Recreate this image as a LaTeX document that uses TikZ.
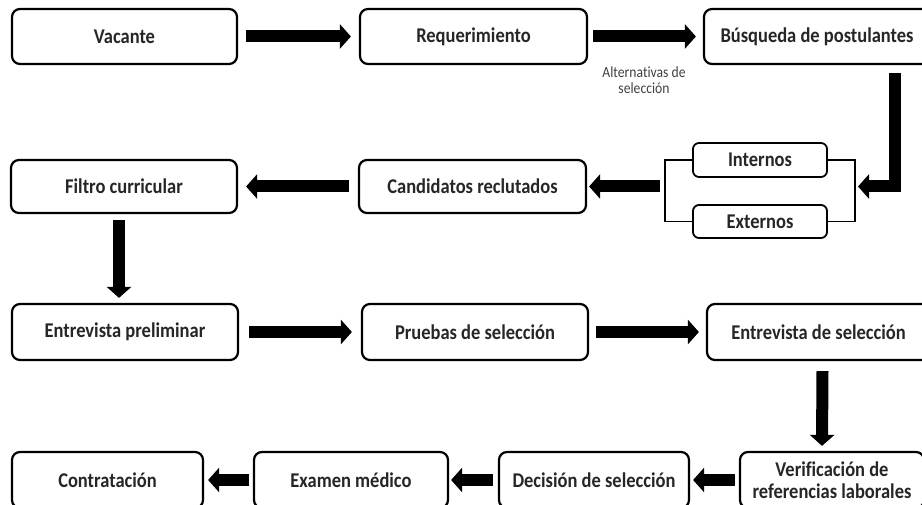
\documentclass[tikz,border=0pt]{standalone}
\usepackage{fontspec}
\setmainfont{Carlito}[FakeStretch=0.88, Ligatures=NoCommon]
\usetikzlibrary{arrows.meta,calc}
\definecolor{textgray}{HTML}{262626}
\definecolor{labelgray}{HTML}{404040}
\tikzset{
	etapa/.style={draw, line width=2.2pt, rounded corners=8pt, align=center, text=textgray,
		font=\fontsize{21}{22}\selectfont\bfseries, inner sep=0pt},
	subetapa/.style={etapa, rounded corners=6pt, line width=1.8pt},
	flecha/.style={line width=12pt, -{Triangle[width=24pt,length=11pt]}, shorten <=8pt, shorten >=8pt},
	linea/.style={line width=1.8pt}
}

\begin{document}
\begin{tikzpicture}[x=1pt,y=-1pt]
		\useasboundingbox (0,0) rectangle (922,505);
		\begin{scope}                           % recorte al marco
			\clip (0,0) rectangle (922,505);
			% fila 1
			\node[etapa, minimum width=225pt, minimum height=55pt] (vac) at (124.5,36.5) {Vacante};
			\node[etapa, minimum width=227pt, minimum height=55pt] (req) at (473.5,36.5) {Requerimiento};
			\node[etapa, minimum width=226pt, minimum height=55pt] (bus) at (817,36.5) {Búsqueda de postulantes};
			\node[font=\fontsize{15.5}{16}\selectfont, text=labelgray, align=center] (alt) at (644,80.5) {Alternativas de\\selección};
			\draw[flecha] (vac) -- (req);
			\draw[flecha, shorten <=5pt, shorten >=7pt] (req) -- (bus);
			% fila 2
			\node[etapa, minimum width=226pt, minimum height=53pt] (filt) at (124,186.5) {Filtro curricular};
			\node[etapa, minimum width=227pt, minimum height=53pt] (cand) at (472.5,186.5) {Candidatos reclutados};
			\node[subetapa, minimum width=134pt, minimum height=34pt] (intr) at (760,160) {Internos};
			\node[subetapa, minimum width=134pt, minimum height=33pt] (extr) at (760,221.5) {Externos};
			\draw[linea] (intr.west) -- ++(-27,0) |- (extr.west);
			\draw[linea] (intr.east) -- ++(27,0) |- (extr.east);
			\coordinate (brL) at (666,186.5);
			\coordinate (brR) at (854,186.5);
			\coordinate (codo) at ($(bus.south)+(78,8)$);
			\draw[flecha, shorten <=0pt, shorten >=4pt] (codo) |- (brR);
			\draw[flecha, shorten <=6pt, shorten >=2pt] (brL) -- (cand);
			\draw[flecha, shorten <=9pt] (cand) -- (filt);
			% fila 3
			\node[etapa, minimum width=226pt, minimum height=56pt] (entp) at (125,332) {Entrevista preliminar};
			\node[etapa, minimum width=226pt, minimum height=56pt] (prue) at (475,332) {Pruebas de selección};
			\node[etapa, minimum width=223pt, minimum height=56pt] (ents) at (818.5,332) {Entrevista de selección};
			\draw[flecha, shorten <=0pt, shorten >=0pt] ($(filt.south)+(-5,6)$) -- ($(entp.north)+(-6,-5)$);
			\draw[flecha, shorten <=10pt, shorten >=9pt] (entp) -- (prue);
			\draw[flecha, shorten <=7pt, shorten >=7pt] (prue) -- (ents);
			% fila 4
			\node[etapa, minimum width=191pt, minimum height=56pt] (cont) at (107.5,480) {Contratación};
			\node[etapa, minimum width=194pt, minimum height=56pt] (exam) at (351,480) {Examen médico};
			\node[etapa, minimum width=190pt, minimum height=56pt] (deci) at (594,480) {Decisión de selección};
			\node[etapa, minimum width=184pt, minimum height=56pt] (veri) at (832,480) {Verificación de\\referencias laborales};
			\draw[flecha, shorten <=0pt, shorten >=0pt] ($(ents.south)+(4,10)$) -- ($(veri.north)+(-10,-5)$);
			\draw[flecha, shorten <=4pt, shorten >=3pt] (veri) -- (deci);
			\draw[flecha, shorten <=5pt, shorten >=2pt] (deci) -- (exam);
			\draw[flecha, shorten <=4pt, shorten >=4pt] (exam) -- (cont);
		\end{scope}
	\end{tikzpicture}
\end{document}
